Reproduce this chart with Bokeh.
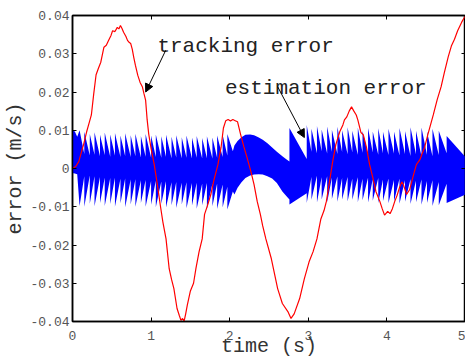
import numpy as np
from bokeh.plotting import figure
from bokeh.models import Range1d, LinearAxis, FixedTicker, Arrow, NormalHead, Label
from bokeh.embed import file_html
from bokeh.resources import INLINE

# ---------------- tracking error (red) ----------------
red_t = [0.00, 0.04, 0.08, 0.11, 0.14, 0.18, 0.21, 0.24, 0.27, 0.30, 0.33, 0.36, 0.40, 0.43,
         0.46, 0.49, 0.51, 0.54, 0.57, 0.59, 0.61, 0.63, 0.65, 0.68, 0.70, 0.72, 0.74, 0.76,
         0.78, 0.80, 0.83, 0.86, 0.89, 0.91, 0.93, 0.95, 0.97, 1.00, 1.04, 1.08, 1.12, 1.15,
         1.19, 1.23, 1.26, 1.29, 1.33, 1.36, 1.38, 1.40, 1.42, 1.44, 1.46, 1.50, 1.54, 1.57,
         1.61, 1.65, 1.68, 1.72, 1.76, 1.80, 1.85, 1.89, 1.92, 1.95, 1.98, 2.01, 2.04, 2.07,
         2.10, 2.14, 2.18, 2.22, 2.27, 2.31, 2.35, 2.39, 2.42, 2.46, 2.53, 2.61, 2.67, 2.74,
         2.78, 2.82, 2.89, 2.95, 3.01, 3.06, 3.11, 3.16, 3.20, 3.23, 3.27, 3.31, 3.35, 3.40,
         3.44, 3.46, 3.49, 3.52, 3.55, 3.58, 3.61, 3.63, 3.67, 3.70, 3.74, 3.78, 3.82, 3.86,
         3.91, 3.94, 3.97, 4.01, 4.04, 4.07, 4.10, 4.13, 4.16, 4.19, 4.21, 4.25, 4.29, 4.33,
         4.375, 4.42, 4.45, 4.48, 4.52, 4.59, 4.64, 4.69, 4.73, 4.78, 4.82, 4.86, 4.90, 4.95, 5.00]
red_v = [0.0000, 0.0005, 0.0018, 0.0040, 0.0062, 0.0096, 0.0118, 0.0140, 0.0195, 0.0245, 0.0262,
         0.0278, 0.0317, 0.0322, 0.0335, 0.0348, 0.0360, 0.0358, 0.0369, 0.0365, 0.0374, 0.0366,
         0.0356, 0.0345, 0.0335, 0.0330, 0.0327, 0.0312, 0.0290, 0.0270, 0.0244, 0.0225, 0.0213,
         0.0195, 0.0179, 0.0127, 0.0090, 0.0052, 0.0010, -0.0042, -0.0100, -0.0140, -0.0184,
         -0.0262, -0.0290, -0.0314, -0.0366, -0.0385, -0.0397, -0.0392, -0.0399, -0.0380, -0.0358,
         -0.0320, -0.0300, -0.0262, -0.0218, -0.0184, -0.0120, -0.0095, -0.0068, -0.0030, 0.0010,
         0.0055, 0.0106, 0.0125, 0.0128, 0.0124, 0.0128, 0.0125, 0.0122, 0.0088, 0.0057, 0.0029,
         -0.0008, -0.0042, -0.0086, -0.0120, -0.0150, -0.0184, -0.0236, -0.0314, -0.0353, -0.0374,
         -0.0392, -0.0380, -0.0340, -0.0288, -0.0244, -0.0218, -0.0184, -0.0132, -0.0110, -0.0086,
         -0.0034, 0.0018, 0.0062, 0.0096, 0.0114, 0.0127, 0.0135, 0.0150, 0.0161, 0.0150, 0.0140,
         0.0127, 0.0094, 0.0088, 0.0055, 0.0010, -0.0023, -0.0060, -0.0086, -0.0105, -0.0122,
         -0.0112, -0.0118, -0.0105, -0.0086, -0.0070, -0.0050, -0.0035, -0.0042, -0.0068, -0.0055,
         -0.0023, 0.0010, 0.0023, 0.0040, 0.0055, 0.0088, 0.0140, 0.0180, 0.0214, 0.0250, 0.0292,
         0.0320, 0.0338, 0.0360, 0.0382, 0.0400]

# ---------------- estimation error (blue) envelope ----------------
blueA_t = [0.00, 0.03, 0.06]
blueA_top = [0.0100, 0.0097, 0.0083]
blueA_bot = [-0.0012, -0.0013, -0.0015]

combB_t = [0.09, 0.15, 0.22, 0.28, 0.35, 0.41, 0.48, 0.54, 0.61, 0.67, 0.74, 0.80, 0.87, 0.93,
           1.00, 1.06, 1.13, 1.19, 1.26, 1.32, 1.39, 1.45, 1.52, 1.58, 1.65, 1.71, 1.78, 1.84,
           1.91, 1.97, 2.04]
combB_top_peak = [0.0100, 0.0096, 0.0090, 0.0095, 0.0088, 0.0094, 0.0089, 0.0093, 0.0086, 0.0092,
                  0.0087, 0.0091, 0.0085, 0.0090, 0.0086, 0.0089, 0.0084, 0.0088, 0.0083, 0.0087,
                  0.0082, 0.0086, 0.0081, 0.0085, 0.0080, 0.0084, 0.0081, 0.0086, 0.0088, 0.0090]
combB_top_low = [0.0038, 0.0034, 0.0036, 0.0032, 0.0035, 0.0031, 0.0034, 0.0030, 0.0033, 0.0030,
                 0.0032, 0.0029, 0.0031, 0.0028, 0.0030, 0.0028, 0.0030, 0.0027, 0.0029, 0.0027,
                 0.0028, 0.0026, 0.0028, 0.0026, 0.0027, 0.0026, 0.0028, 0.0030, 0.0034, 0.0045]
combB_bot_peak = [-0.0098, -0.0100, -0.0092, -0.0099, -0.0090, -0.0098, -0.0093, -0.0100, -0.0091,
                  -0.0101, -0.0094, -0.0100, -0.0090, -0.0100, -0.0095, -0.0101, -0.0092, -0.0102,
                  -0.0096, -0.0103, -0.0094, -0.0104, -0.0097, -0.0105, -0.0096, -0.0106, -0.0099,
                  -0.0106, -0.0102, -0.0107]
combB_bot_low = [-0.0020, -0.0018, -0.0020, -0.0022, -0.0024, -0.0025, -0.0024, -0.0027, -0.0026,
                 -0.0029, -0.0028, -0.0031, -0.0030, -0.0033, -0.0032, -0.0034, -0.0033, -0.0036,
                 -0.0035, -0.0037, -0.0036, -0.0038, -0.0037, -0.0039, -0.0038, -0.0040, -0.0039,
                 -0.0042, -0.0048, -0.0060]

blueC_t = [2.04, 2.06, 2.10, 2.15, 2.20, 2.26, 2.31, 2.37, 2.42, 2.48, 2.54, 2.60, 2.67, 2.72, 2.76]
blueC_top = [0.0045, 0.0060, 0.0072, 0.0082, 0.0088, 0.0089, 0.0087, 0.0081, 0.0075, 0.0066,
             0.0055, 0.0044, 0.0032, 0.0024, 0.0018]
blueC_bot = [-0.0060, -0.0068, -0.0050, -0.0036, -0.0025, -0.0018, -0.0016, -0.0015, -0.0016,
             -0.0020, -0.0026, -0.0038, -0.0060, -0.0072, -0.0081]

combD_t = [2.76, 2.98, 3.04, 3.11, 3.17, 3.24, 3.30, 3.37, 3.43, 3.50, 3.56, 3.63, 3.69, 3.76,
           3.82, 3.89, 3.95, 4.02, 4.09, 4.16, 4.23, 4.30, 4.37, 4.44, 4.51, 4.58, 4.66, 4.76, 5.00]
combD_top_peak = [0.0106, 0.0114, 0.0104, 0.0111, 0.0102, 0.0110, 0.0101, 0.0109, 0.0100, 0.0108,
                  0.0099, 0.0107, 0.0098, 0.0106, 0.0097, 0.0105, 0.0096, 0.0104, 0.0097, 0.0106,
                  0.0098, 0.0108, 0.0099, 0.0107, 0.0097, 0.0104, 0.0099, 0.0085]
combD_top_low = [0.0025, 0.0044, 0.0040, 0.0045, 0.0039, 0.0044, 0.0038, 0.0043, 0.0037, 0.0042,
                 0.0036, 0.0041, 0.0037, 0.0042, 0.0036, 0.0040, 0.0035, 0.0039, 0.0034, 0.0038,
                 0.0033, 0.0037, 0.0032, 0.0036, 0.0032, 0.0035, 0.0040, 0.0030]
combD_bot_peak = [-0.0094, -0.0090, -0.0082, -0.0089, -0.0081, -0.0088, -0.0080, -0.0087, -0.0081,
                  -0.0086, -0.0082, -0.0088, -0.0083, -0.0089, -0.0084, -0.0090, -0.0085, -0.0091,
                  -0.0086, -0.0092, -0.0087, -0.0093, -0.0088, -0.0095, -0.0090, -0.0098, -0.0096,
                  -0.0090]
combD_bot_low = [-0.0065, -0.0022, -0.0019, -0.0023, -0.0020, -0.0024, -0.0021, -0.0025, -0.0022,
                 -0.0026, -0.0023, -0.0027, -0.0024, -0.0028, -0.0025, -0.0029, -0.0026, -0.0030,
                 -0.0027, -0.0031, -0.0028, -0.0032, -0.0029, -0.0033, -0.0031, -0.0035, -0.0040,
                 -0.0068]

# ticks / labels / annotations
x_ticks = [0, 1, 2, 3, 4, 5]
y_ticks = [-0.04, -0.03, -0.02, -0.01, 0.0, 0.01, 0.02, 0.03, 0.04]
y_tick_labels = ["-0.04", "-0.03", "-0.02", "-0.01", "0", "0.01", "0.02", "0.03", "0.04"]
x_tick_labels = ["0", "1", "2", "3", "4", "5"]
ann_text = ["tracking error", "estimation error"]
ann_text_xy = [(1.08, 0.0319), (1.94, 0.0210)]
ann_arrow_start = [(1.186, 0.0309), (2.61, 0.0214)]
ann_arrow_end = [(0.931, 0.0200), (2.95, 0.0081)]


def sawtooth(times, tp, tl, bp, bl):
    xs, ups, los = [], [], []
    for i in range(len(tp)):
        xs += [times[i], times[i + 1]]
        ups += [tp[i], tl[i]]
        los += [bp[i], bl[i]]
    return xs, ups, los


bx, bu, bl = sawtooth(combB_t, combB_top_peak, combB_top_low, combB_bot_peak, combB_bot_low)
dx, du, dl = sawtooth(combD_t, combD_top_peak, combD_top_low, combD_bot_peak, combD_bot_low)
blue_x = blueA_t + bx + blueC_t + dx
blue_up = blueA_top + bu + blueC_top + du
blue_lo = blueA_bot + bl + blueC_bot + dl

MONO = "Liberation Mono"

p = figure(width=465, height=360,
           x_range=Range1d(0, 5), y_range=Range1d(-0.04, 0.04),
           output_backend="svg", toolbar_location=None,
           min_border_left=72, min_border_right=0, min_border_top=15, min_border_bottom=37,
           background_fill_color="white", border_fill_color="white")
p.xgrid.visible = False
p.ygrid.visible = False
p.outline_line_color = "black"
p.outline_line_width = 1.5

p.varea(x=blue_x, y1=blue_lo, y2=blue_up, fill_color="#0000ff", fill_alpha=1.0)
p.line(red_t, red_v, line_color="#ff0000", line_width=1.2)

for ax, ticks, labels in ((p.xaxis[0], x_ticks, x_tick_labels), (p.yaxis[0], y_ticks, y_tick_labels)):
    ax.ticker = FixedTicker(ticks=ticks)
    ax.major_label_overrides = {t: l for t, l in zip(ticks, labels)}
    ax.major_tick_in = 4
    ax.major_tick_out = 0
    ax.minor_tick_line_color = None
    ax.axis_line_color = "black"
    ax.axis_line_width = 1.5
    ax.major_tick_line_color = "black"
    ax.major_label_text_font = MONO
    ax.major_label_text_font_size = "13px"
    ax.major_label_text_color = "#555555"
    ax.axis_label_text_font = MONO
    ax.axis_label_text_font_size = "20px"
    ax.axis_label_text_font_style = "normal"
    ax.axis_label_text_color = "#333333"

p.xaxis[0].axis_label = "time (s)"
p.xaxis[0].major_label_standoff = 9
p.xaxis[0].axis_label_standoff = -8
p.yaxis[0].axis_label = "error (m/s)"
p.yaxis[0].major_label_standoff = 3
p.yaxis[0].axis_label_standoff = 0

for loc, ticks in (("above", x_ticks), ("right", y_ticks)):
    a = LinearAxis(ticker=FixedTicker(ticks=ticks), major_tick_in=4, major_tick_out=0,
                   minor_tick_line_color=None, major_label_text_font_size="1px",
                   major_label_overrides={t: "" for t in ticks},
                   major_label_standoff=0, axis_line_color="black", axis_line_width=1.5)
    p.add_layout(a, loc)

for txt, (tx, ty) in zip(ann_text, ann_text_xy):
    p.add_layout(Label(x=tx, y=ty, text=txt, text_font=MONO, text_font_size="21px",
                       text_color="#222222", text_baseline="alphabetic", text_align="left"))

for (x0, y0), (x1, y1) in zip(ann_arrow_start, ann_arrow_end):
    p.add_layout(Arrow(x_start=x0, y_start=y0, x_end=x1, y_end=y1, line_color="black",
                       line_width=1,
                       end=NormalHead(size=8, fill_color="black", line_color="black")))

open("out.html", "w").write(file_html(p, INLINE))
